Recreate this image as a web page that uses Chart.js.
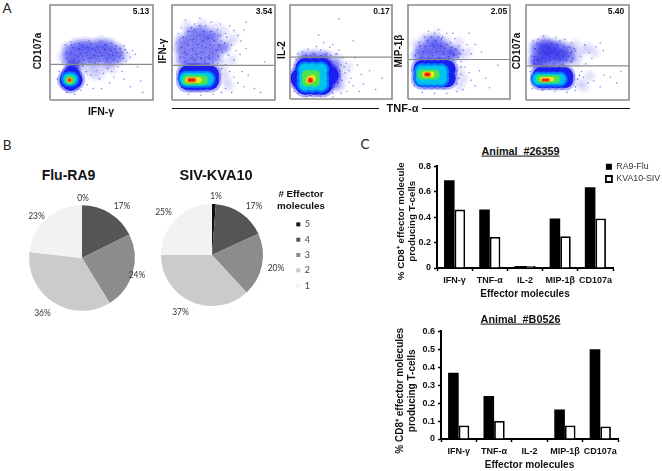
<!DOCTYPE html>
<html>
<head>
<meta charset="utf-8">
<style>
  html, body { margin: 0; padding: 0; background: #fff; }
  #fig { position: relative; width: 662px; height: 471px; overflow: hidden; }
  canvas { position: absolute; }
  canvas.flow { filter: blur(0.45px); }
  .t { position: absolute; white-space: pre; line-height: 1; color: #111; font-family: "Liberation Sans", sans-serif; }
  .b { font-weight: bold; }
  .pct { font-family: Lato, sans-serif; font-size: 8.5px; color: #333; }
  .panel { font-family: Lato, sans-serif; font-size: 13.5px; color: #222; }
  .rule { position: absolute; background: #111; height: 1.5px; top: 107.5px; }
</style>
</head>
<body>
<div id="fig"></div>
<script src="https://cdn.jsdelivr.net/npm/chart.js@4"></script>
<script>
// Panel B values
const effectorCounts = ["5", "4", "3", "2", "1"];
const pieShades = ["#111111", "#555555", "#8c8c8c", "#cbcbcb", "#f2f2f2"];
const fluValues = [0, 17.7, 23.5, 35.6, 23.2];
const sivValues = [1.2, 17, 19.9, 36.9, 25];

// Panel C values
const effectors = ["IFN-γ", "TNF-α", "IL-2", "MIP-1β", "CD107a"];
const animal26359Flu = [0.69, 0.46, 0.015, 0.39, 0.635];
const animal26359Siv = [0.46, 0.245, 0.015, 0.25, 0.39];
const animalB0526Flu = [0.37, 0.24, 0, 0.165, 0.5];
const animalB0526Siv = [0.075, 0.1, 0, 0.075, 0.07];

// Panel A, events, x/y in percent of the plot frame
const p1Faint = [[33,30],[38,34],[44,33],[50,34],[55,36],[42,27],[60,33],[48,26],[30,38],[74,46],[12,45]];
const p1Haze = [[18,45],[18,53],[26,42],[26,50],[26,57],[34,44],[34,52],[34,58],[42,42],[42,50],[42,57],[50,44],[50,52],[50,59],[58,42],[58,50],[58,57],[66,44],[66,52],[20,37],[24,35]];
const p1Dots = [[15,58],[20,61],[24,47],[29,60],[31,39],[36,47],[38,62],[41,54],[44,39],[47,46],[49,61],[52,55],[55,41],[57,48],[60,60],[63,54],[66,40],[69,47],[72,57],[75,50],[78,45],[80,52],[74,41],[83,48],[35,30],[40,26],[45,31],[48,22],[52,28],[56,33],[60,30],[62,24],[66,35],[70,30],[58,18],[72,22],[85,35],[88,20],[36,16],[42,12],[30,10],[50,12],[12,40],[9,30],[7,22],[16,8],[24,6],[90,8],[78,14],[32,36]];
const p1Grain = [[17,44],[20,49],[22,55],[23,42],[27,46],[28,54],[30,49],[32,57],[33,42],[35,50],[37,55],[39,44],[40,59],[43,47],[44,52],[46,56],[48,41],[49,50],[51,47],[53,53],[54,58],[56,44],[59,52],[61,47],[62,42],[64,57],[65,50],[67,45],[68,54],[70,50],[71,44],[73,53],[19,40],[25,38],[28,41],[38,40],[16,50],[21,58],[27,36],[34,38]];
const p1Blue = [[17,21],[24,21],[20,25],[20,18],[21,27]];
const p1Cyan = [[18,22],[21,22]];
const p1Green = [[19,21],[20,21]];
const p1Yellow = [[19,21]];
const p1Red = [[19,21]];

const p2Faint = [[55,60],[60,65],[50,72],[30,80],[15,78],[48,38],[52,22],[55,15],[50,30],[58,42],[5,55],[42,76]];
const p2Haze = [[10,42],[10,52],[10,62],[18,40],[18,50],[18,60],[18,70],[26,42],[26,52],[26,62],[26,72],[34,42],[34,52],[34,62],[34,70],[42,45],[42,55],[42,66],[50,55]];
const p2Dots = [[6,70],[9,76],[4,60],[13,84],[22,80],[27,86],[33,78],[38,82],[44,74],[47,80],[52,70],[56,78],[60,73],[64,68],[67,62],[70,74],[58,58],[62,52],[55,47],[60,42],[66,48],[72,54],[52,37],[48,33],[56,30],[60,24],[64,18],[70,14],[52,12],[58,8],[48,8],[40,6],[28,5],[16,6],[74,26],[80,12],[48,62],[41,70],[36,47],[29,57],[20,45],[14,66],[24,67],[32,39],[12,36],[44,38],[68,30],[86,8],[90,40],[72,82]];
const p2Grain = [[8,45],[9,56],[11,66],[13,40],[14,48],[15,58],[16,72],[19,44],[20,54],[21,64],[22,74],[23,38],[24,48],[25,58],[27,68],[28,44],[29,50],[30,62],[31,72],[32,40],[33,55],[35,65],[36,44],[37,58],[38,72],[39,50],[40,40],[41,62],[43,52],[45,46],[46,58],[47,68],[49,50],[51,60],[53,66],[27,78],[19,76],[12,50],[35,38],[22,42]];
const p2Blue = [[15,20],[15,27],[20,20],[20,27],[25,20],[25,27],[30,20],[30,27],[37,20],[37,27]];
const p2Cyan = [[14,22],[18,22],[22,22],[26,22],[30,22],[34,22]];
const p2Green = [[15,21],[19,21],[23,21],[27,21],[30,21]];
const p2Yellow = [[16,21],[19,21],[22,21],[26,21]];
const p2Red = [[17,21],[19,21],[21,21]];

const p3Faint = [[18,47],[26,48],[34,46],[42,44],[46,30],[52,24],[50,14],[56,34],[48,42]];
const p3Haze = [[44,16],[44,26],[44,36],[24,44],[14,44],[34,44]];
const p3Dots = [[12,50],[18,53],[22,49],[26,56],[30,52],[33,60],[36,49],[39,55],[42,58],[45,48],[48,52],[52,44],[55,38],[58,30],[60,22],[62,14],[56,8],[50,6],[66,36],[70,26],[64,44],[72,16],[78,30],[84,10],[90,22],[8,48],[5,36],[3,22],[4,8],[16,3],[30,3],[42,2],[46,48],[58,18],[54,28],[50,36],[68,8],[28,68],[48,85],[62,62]];
const p3Grain = [[42,12],[44,20],[46,28],[43,36],[40,40],[47,18],[48,24],[45,34],[16,46],[20,46],[24,48],[30,46],[35,47],[40,46],[6,42],[5,12],[8,6],[20,4],[34,5],[42,6],[49,30],[51,20],[53,34]];
const p3Blue = [[15,15],[15,24],[15,33],[24,15],[24,24],[24,33],[32,15],[32,24],[32,33],[10,22],[38,25]];
const p3Cyan = [[15,16],[15,23],[15,31],[22,16],[22,23],[22,31],[30,16],[30,23],[30,31]];
const p3Green = [[17,19],[24,19],[17,25],[24,25],[21,22]];
const p3Yellow = [[19,20],[22,22],[20,21]];
const p3Red = [[20,20]];

const p4Faint = [[52,46],[58,50],[15,64],[38,62],[28,68],[50,60],[50,30],[54,22],[50,14],[8,58]];
const p4Haze = [[10,46],[18,46],[26,46],[34,46],[42,46],[14,54],[22,54],[30,54],[38,54],[46,50],[22,62],[30,60]];
const p4Dots = [[8,52],[11,60],[16,66],[20,72],[26,70],[30,74],[34,66],[38,70],[42,60],[46,64],[50,56],[54,52],[58,58],[62,48],[64,42],[52,40],[56,34],[60,28],[62,20],[66,14],[54,10],[48,8],[38,6],[26,6],[14,7],[6,14],[4,30],[70,30],[76,22],[72,50],[66,58],[80,12],[44,70],[24,58],[34,50],[18,50],[42,52],[60,70],[88,36],[52,26]];
const p4Grain = [[7,46],[10,50],[13,44],[15,50],[17,56],[19,62],[20,44],[22,50],[24,46],[25,56],[27,62],[28,50],[31,44],[32,56],[33,64],[35,48],[36,54],[38,58],[40,45],[41,50],[43,55],[45,47],[47,53],[49,44],[51,48],[23,66],[12,56],[30,66],[48,30],[50,22],[48,16],[52,34]];
const p4Blue = [[14,22],[14,32],[20,22],[20,32],[26,22],[26,32],[32,22],[32,32],[38,22],[38,32]];
const p4Cyan = [[14,22],[14,29],[20,22],[20,29],[26,22],[26,29],[32,22],[32,29]];
const p4Green = [[14,26],[18,26],[22,26],[26,26]];
const p4Yellow = [[17,26],[20,26],[23,26]];
const p4Red = [[18,26],[20,26]];

const p5Faint = [[50,48],[55,52],[60,55],[50,40],[48,58],[52,18],[56,14],[62,25],[66,50]];
const p5Haze = [[10,40],[10,48],[10,56],[18,38],[18,46],[18,54],[18,60],[26,40],[26,48],[26,56],[34,40],[34,48],[34,56],[42,44],[42,52],[10,40],[18,46],[26,48],[34,48],[18,54],[26,56]];
const p5Dots = [[7,62],[12,64],[17,67],[23,63],[29,66],[33,62],[38,64],[44,60],[48,52],[53,46],[57,58],[61,50],[64,44],[68,56],[72,60],[75,52],[50,36],[54,30],[56,24],[60,18],[66,20],[72,14],[76,26],[82,24],[88,18],[48,10],[40,8],[28,9],[16,10],[6,12],[4,30],[5,46],[40,55],[45,42],[24,36],[30,44],[36,52],[14,50],[58,38],[92,30]];
const p5Grain = [[8,38],[8,46],[9,54],[11,60],[12,42],[13,50],[14,58],[15,37],[16,44],[17,52],[19,40],[20,48],[20,58],[22,55],[23,42],[24,50],[25,60],[27,38],[28,44],[28,54],[30,48],[31,58],[33,42],[33,52],[35,37],[36,46],[37,56],[39,42],[39,50],[41,46],[42,56],[44,40],[44,50],[46,44],[47,54],[48,14],[50,22],[52,26]];
const p5Blue = [[14,21],[14,26],[20,21],[20,26],[26,21],[26,26],[32,21],[32,26],[38,21],[38,26]];
const p5Cyan = [[12,22],[17,22],[22,22],[27,22],[33,22]];
const p5Green = [[14,22],[18,22],[22,22],[26,22],[29,22]];
const p5Yellow = [[16,22],[19,22],[22,22],[25,22]];
const p5Red = [[17,21],[19,21],[21,21]];

const fig = document.getElementById("fig");

const addCanvas = (left, top, width, height, cls) => {
  const canvas = document.createElement("canvas");
  canvas.width = width;
  canvas.height = height;
  canvas.style.left = left + "px";
  canvas.style.top = top + "px";
  canvas.style.width = width + "px";
  canvas.style.height = height + "px";
  if (cls) canvas.className = cls;
  fig.appendChild(canvas);
  return canvas.getContext("2d");
};

// Text placed by its centre point
const addText = (text, cx, cy, cls, size, extra) => {
  const el = document.createElement("div");
  el.className = "t " + cls;
  el.textContent = text;
  el.style.left = cx + "px";
  el.style.top = cy + "px";
  if (size) el.style.fontSize = size + "px";
  el.style.transform = "translate(-50%,-50%)" + (extra || "");
  fig.appendChild(el);
  return el;
};

// One dot plot: density levels stacked from sparse to peak, gate and frame on top.
// Chart.js paints the first dataset last, so the list runs from top layer to bottom.
const flowPlot = (box, gate, levels, radii) => {
  const pad = 3;
  const ctx = addCanvas(box.x - pad, box.y - pad, box.w + pad * 2, box.h + pad * 2, "flow");
  const layer = (data, color, radius) => ({
    data: data,
    backgroundColor: color,
    borderWidth: 0,
    pointRadius: radius,
    showLine: false,
  });
  const edge = (data, width) => ({
    data: data,
    showLine: true,
    pointRadius: 0,
    borderColor: "#8b8b8b",
    borderWidth: width,
    clip: false,
  });
  new Chart(ctx, {
    type: "scatter",
    data: {
      datasets: [
        edge([[0, 0], [100, 0], [100, 100], [0, 100], [0, 0]], 1.6),
        edge([[0, gate], [100, gate]], 1.2),
        layer(levels.red, "#e8200c", radii[4]),
        layer(levels.red, "#ff9a10", radii[4] + 1),
        layer(levels.yellow, "#f2e620", radii[3]),
        layer(levels.green, "#4fe24a", radii[2]),
        layer(levels.green, "#1fdc9a", radii[2] + 1.2),
        layer(levels.cyan, "#00c4ee", radii[1]),
        layer(levels.cyan, "#0078ff", radii[1] + 2.2),
        layer(levels.blue, "#1a1ef0", radii[0]),
        layer(levels.blue, "rgba(40,40,235,0.35)", radii[0] + 2.5),
        layer(levels.grain, "rgba(38,38,220,0.7)", 0.8),
        layer(levels.dots, "rgba(60,60,225,0.6)", 0.8),
        layer(levels.haze, "rgba(45,45,235,0.3)", 4),
        layer(levels.haze, "rgba(45,45,235,0.2)", 6.5),
        layer(levels.haze, "rgba(45,45,235,0.10)", 9),
        layer(levels.faint, "rgba(90,90,240,0.10)", 4),
        layer(levels.faint, "rgba(90,90,240,0.06)", 7),
      ],
    },
    options: {
      responsive: false,
      animation: false,
      // autoPadding would shrink the frame to make room for the big density points
      layout: { padding: pad, autoPadding: false },
      plugins: { legend: { display: false }, tooltip: { enabled: false } },
      scales: {
        x: { type: "linear", min: 0, max: 100, display: false },
        y: { type: "linear", min: 0, max: 100, display: false },
      },
    },
  });
};

flowPlot({ x: 50, y: 5, w: 103, h: 95 }, 37.5,
  { faint: p1Faint, haze: p1Haze, dots: p1Dots, grain: p1Grain, blue: p1Blue, cyan: p1Cyan, green: p1Green, yellow: p1Yellow, red: p1Red },
  [8, 5.5, 3.8, 2.4, 1.5]);
flowPlot({ x: 172, y: 5, w: 103, h: 95 }, 36.5,
  { faint: p2Faint, haze: p2Haze, dots: p2Dots, grain: p2Grain, blue: p2Blue, cyan: p2Cyan, green: p2Green, yellow: p2Yellow, red: p2Red },
  [9, 6.5, 4.5, 3, 1.8]);
flowPlot({ x: 290, y: 5, w: 102, h: 94 }, 44.5,
  { faint: p3Faint, haze: p3Haze, dots: p3Dots, grain: p3Grain, blue: p3Blue, cyan: p3Cyan, green: p3Green, yellow: p3Yellow, red: p3Red },
  [10, 6.5, 5, 3.4, 2.2]);
flowPlot({ x: 408, y: 5, w: 102, h: 94 }, 42,
  { faint: p4Faint, haze: p4Haze, dots: p4Dots, grain: p4Grain, blue: p4Blue, cyan: p4Cyan, green: p4Green, yellow: p4Yellow, red: p4Red },
  [9, 6.5, 4.5, 3, 1.8]);
flowPlot({ x: 526, y: 5, w: 103, h: 95 }, 36,
  { faint: p5Faint, haze: p5Haze, dots: p5Dots, grain: p5Grain, blue: p5Blue, cyan: p5Cyan, green: p5Green, yellow: p5Yellow, red: p5Red },
  [8, 5.5, 3.5, 2.4, 1.4]);

// Pies
const pieChart = (ctx, values, radius, legend) =>
  new Chart(ctx, {
    type: "pie",
    data: {
      labels: effectorCounts,
      datasets: [{ data: values, backgroundColor: pieShades, borderWidth: 0 }],
    },
    options: {
      responsive: false,
      animation: false,
      radius: radius,
      layout: { padding: 0 },
      plugins: {
        tooltip: { enabled: false },
        legend: legend
          ? {
              position: "right",
              labels: {
                boxWidth: 4,
                boxHeight: 4,
                padding: 6.3,
                color: "#444",
                font: { family: "Lato", size: 9 },
              },
            }
          : { display: false },
      },
    },
  });

pieChart(addCanvas(25, 201, 114, 114), fluValues, 52.8, false);
pieChart(addCanvas(134, 198, 186, 114), sivValues, 51, true);

// Bars. The legend sits over the top right of the plot, so it gets pinned after layout
const pinLegend = (x, y) => ({
  id: "pinLegend",
  afterLayout(chart) {
    const legend = chart.legend;
    legend.left = x;
    legend.right = x + 70;
    legend.top = y;
    legend.bottom = y + 40;
  },
});

const barChart = (canvasBox, area, fluData, sivData, yMax, yTitle, titleSize, showLegend) => {
  const ctx = addCanvas(canvasBox.x, canvasBox.y, canvasBox.w, canvasBox.h);
  const axisFont = { family: "Liberation Sans", size: 9, weight: "bold" };
  new Chart(ctx, {
    type: "bar",
    data: {
      labels: effectors,
      datasets: [
        { label: "RA9-Flu", data: fluData, backgroundColor: "#000", borderColor: "#000", borderWidth: 0 },
        { label: "KVA10-SIV", data: sivData, backgroundColor: "#fff", borderColor: "#000", borderWidth: 1.8 },
      ],
    },
    options: {
      responsive: false,
      animation: false,
      layout: {
        padding: {
          top: area.top - canvasBox.y,
          right: canvasBox.x + canvasBox.w - area.right,
          left: 0,
          bottom: 0,
        },
      },
      datasets: { bar: { barPercentage: 1, categoryPercentage: 0.6 } },
      plugins: {
        tooltip: { enabled: false },
        legend: showLegend
          ? {
              position: "chartArea",
              align: "start",
              labels: {
                boxWidth: 6,
                boxHeight: 6,
                padding: 3.4,
                color: "#333",
                font: { family: "Liberation Sans", size: 8.8 },
              },
            }
          : { display: false },
      },
      scales: {
        x: {
          afterFit: (scale) => { scale.height = canvasBox.y + canvasBox.h - area.bottom; },
          border: { color: "#000", width: 2 },
          grid: { offset: true, drawOnChartArea: false, color: "#000", tickLength: 3, tickWidth: 1.5 },
          ticks: { color: "#111", font: axisFont, padding: 4, maxRotation: 0, autoSkip: false },
          title: {
            display: true,
            text: "Effector molecules",
            color: "#111",
            font: { family: "Liberation Sans", size: 10, weight: "bold" },
            padding: { top: 5, bottom: 0 },
          },
        },
        y: {
          min: 0,
          max: yMax,
          afterFit: (scale) => { scale.width = area.left - canvasBox.x; },
          border: { color: "#000", width: 2 },
          grid: { drawOnChartArea: false, color: "#000", tickLength: 3, tickWidth: 1.5 },
          ticks: {
            stepSize: 0.1,
            color: "#111",
            font: axisFont,
            padding: 3,
            callback: (value) => (value === 0 ? "0" : value.toFixed(1)),
          },
          title: {
            display: true,
            text: yTitle,
            color: "#111",
            font: { family: "Liberation Sans", size: titleSize, weight: "bold", lineHeight: 1.2 },
            padding: { top: 0, bottom: 4 },
          },
        },
      },
    },
    plugins: showLegend ? [pinLegend(602.5 - canvasBox.x, 159 - canvasBox.y)] : [],
  });
};

// Trailing spaces nudge the rotated titles down to where the reference has them
barChart({ x: 395, y: 158, w: 267, h: 142 }, { left: 437, right: 613, top: 164, bottom: 268 },
  animal26359Flu, animal26359Siv, 0.8, ["% CD8⁺ effector molecule   ", "producing T-cells   "], 9.8, true);
barChart({ x: 394, y: 323, w: 268, h: 148 }, { left: 441, right: 618, top: 329, bottom: 439 },
  animalB0526Flu, animalB0526Siv, 0.6, ["% CD8⁺ effector molecules    ", "producing T-cells    "], 10, false);

// Text and rules around the charts
addText("A", 7, 9, "panel");
addText("B", 7, 145.5, "panel");
addText("C", 365, 145, "panel");

addText("5.13", 141, 11, "b", 8.5);
addText("3.54", 264, 11, "b", 8.5);
addText("0.17", 381.5, 11, "b", 8.5);
addText("2.05", 499, 11, "b", 8.5);
addText("5.40", 616, 11, "b", 8.5);

addText("IFN-γ", 101, 111, "b", 10.5);
addText("CD107a", 38, 51, "b", 10, " rotate(-90deg)");
addText("IFN-γ", 163, 51, "b", 10, " rotate(-90deg)");
addText("IL-2", 282, 50, "b", 10, " rotate(-90deg)");
addText("MIP-1β", 399, 51, "b", 10, " rotate(-90deg)");
addText("CD107a", 516.5, 51, "b", 10, " rotate(-90deg)");
addText("TNF-α", 402.5, 108, "b", 11);

[[172, 207], [422, 208]].forEach(([left, width]) => {
  const rule = document.createElement("div");
  rule.className = "rule";
  rule.style.left = left + "px";
  rule.style.width = width + "px";
  fig.appendChild(rule);
});

addText("Flu-RA9", 68.5, 175, "b", 14);
addText("SIV-KVA10", 216, 175, "b", 14.5);
addText("# Effector", 301, 193.5, "b", 9.8);
addText("molecules", 301, 205.5, "b", 9.8);

[["0%", 83, 197.5], ["17%", 122, 205.5], ["24%", 137, 275], ["36%", 42.5, 312.5], ["23%", 36.5, 216],
 ["1%", 216, 196], ["17%", 254, 205.5], ["20%", 276, 267.5], ["37%", 180.5, 311.5], ["25%", 163.5, 211.5]]
  .forEach(([text, x, y]) => addText(text, x, y, "pct"));

addText("Animal  #26359", 520.5, 151, "b", 10.8).style.textDecoration = "underline";
addText("Animal  #B0526", 520.5, 319, "b", 10.8).style.textDecoration = "underline";
</script>
</body>
</html>
